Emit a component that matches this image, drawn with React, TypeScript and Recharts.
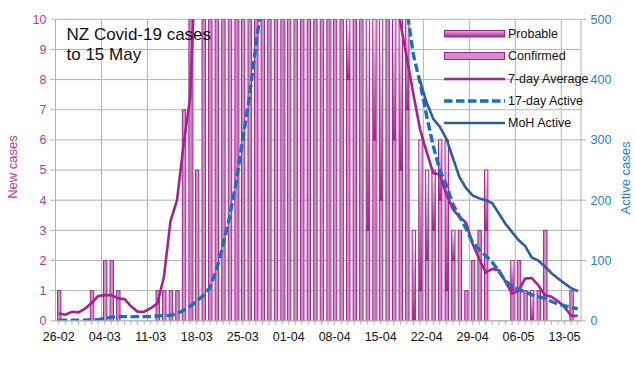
import React from 'react';
import { ComposedChart, Bar, Line, XAxis, YAxis, CartesianGrid, ReferenceLine, Legend } from 'recharts';

const FONT = '"Liberation Sans", Arial, sans-serif';

const DATES = [
  '26-02', '27-02', '28-02', '29-02',
  '01-03', '02-03', '03-03', '04-03', '05-03', '06-03', '07-03', '08-03', '09-03', '10-03',
  '11-03', '12-03', '13-03', '14-03', '15-03', '16-03', '17-03', '18-03', '19-03', '20-03',
  '21-03', '22-03', '23-03', '24-03', '25-03', '26-03', '27-03', '28-03', '29-03', '30-03', '31-03',
  '01-04', '02-04', '03-04', '04-04', '05-04', '06-04', '07-04', '08-04', '09-04', '10-04',
  '11-04', '12-04', '13-04', '14-04', '15-04', '16-04', '17-04', '18-04', '19-04', '20-04',
  '21-04', '22-04', '23-04', '24-04', '25-04', '26-04', '27-04', '28-04', '29-04', '30-04',
  '01-05', '02-05', '03-05', '04-05', '05-05', '06-05', '07-05', '08-05', '09-05', '10-05',
  '11-05', '12-05', '13-05', '14-05', '15-05',
];

const CONFIRMED = [
  1, 0, 0, 0, 0, 1, 0, 2, 2, 1,
  0, 0, 0, 0, 0, 1, 1, 1, 1, 7,
  12, 5, 14, 12, 39, 57, 36, 55, 50, 85,
  85, 75, 80, 70, 85, 65, 89, 70, 60, 55,
  50, 45, 40, 35, 8, 25, 20, 3, 6, 4,
  14, 6, 5, 7, 0, 1, 2, 3, 4, 1,
  2, 3, 1, 2, 3, 3, 0, 0, 0, 1,
  2, 1, 0, 1, 3, 0, 0, 0, 1, 0,
];

const PROBABLE = [
  0, 0, 0, 0, 0, 0, 0, 0, 0, 0,
  0, 0, 0, 0, 0, 0, 0, 0, 0, 0,
  0, 0, 0, 0, 0, 0, 0, 0, 0, 0,
  0, 0, 0, 0, 0, 0, 0, 0, 0, 0,
  0, 0, 0, 0, 12, 0, 0, 12, 9, 10,
  0, 7, 6, 4, 3, 5, 3, 2, 2, 5,
  1, 0, 0, 0, 0, 2, 0, 0, 0, 1,
  0, 0, 1, 0, 0, 0, 0, 0, 0, 0,
];

const AVG_7DAY = [
  0.24, 0.2, 0.3, 0.28, 0.4, 0.6, 0.82, 0.85, 0.85, 0.75,
  0.72, 0.48, 0.3, 0.3, 0.42, 0.57, 1.45, 3.3, 4.0, 5.85,
  7.4, 13, 18, 25, 31, 38, 46, 54, 61, 67,
  72, 75, 78, 79, 79, 78, 75, 72, 66, 60,
  55, 48, 42, 37, 32, 27, 22, 19, 16, 14,
  12.5, 11, 9.9, 8.7, 7.5, 6.35, 5.6, 4.9, 4.85, 4.2,
  3.7, 3.45, 3.25, 2.55, 2.05, 1.6, 1.72, 1.68, 1.3, 0.9,
  1.0, 1.4, 1.42, 1.18, 0.85, 0.8, 0.65, 0.45, 0.17, 0.17,
];

const ACTIVE_17DAY = [
  1, 1, 1, 1, 1, 2, 2, 4, 6, 7,
  7, 7, 7, 7, 7, 8, 9, 9, 12, 17,
  24, 33, 42, 55, 84, 125, 172, 230, 300, 370,
  455, 540, 620, 700, 780, 850, 920, 980, 1030, 1060,
  1080, 1090, 1080, 1050, 1000, 950, 880, 820, 760, 700,
  680, 630, 575, 515, 440, 395, 340, 290, 250, 225,
  193, 173, 153, 130, 118, 108, 97, 82, 66, 57,
  52, 48, 43, 40, 37, 32, 28, 25, 22, 20,
];

const MOH_ACTIVE = [
  null, null, null, null, null, null, null, null, null, null,
  null, null, null, null, null, null, null, null, null, null,
  null, null, null, null, null, null, null, null, null, null,
  null, null, null, null, null, null, null, null, null, null,
  null, null, null, null, null, null, null, null, null, null,
  null, null, null, null, null, 398, 362, 335, 322, 302,
  270, 238, 220, 208, 203, 200, 195, 178, 161, 147,
  134, 124, 105, 100, 90, 79, 70, 62, 54, 49,
];

const X_TICK_LABELS = ['26-02', '04-03', '11-03', '18-03', '25-03', '01-04', '08-04', '15-04', '22-04', '29-04', '06-05', '13-05'];
const LEFT_TICKS = [0, 1, 2, 3, 4, 5, 6, 7, 8, 9, 10];
const RIGHT_TICKS = [0, 100, 200, 300, 400, 500];
const WEEK_BOUNDARIES = [7, 14, 21, 28, 35, 42, 49, 56, 63, 70, 77];

const LEGEND_ITEMS = ['Probable', 'Confirmed', '7-day Average', '17-day Active', 'MoH Active'];

const MAGENTA = '#a3238f';
const PINK = '#d48ccb';
const DASH_BLUE = '#1a6fc0';
const MOH_BLUE = '#2d5f9a';
const GRID = '#b3b3b3';
const LEFT_LABEL = '#b03aa0';
const RIGHT_LABEL = '#2a80d0';

const data = DATES.map((date, i) => ({
  date,
  idx: i + 0.5,
  confirmed: CONFIRMED[i],
  probable: PROBABLE[i],
  avg7: AVG_7DAY[i],
  active17: ACTIVE_17DAY[i],
  moh: MOH_ACTIVE[i],
}));

const XTick = (props: any) => {
  const { x, y, payload } = props;
  if (!X_TICK_LABELS.includes(payload.value)) return <g />;
  return (
    <text x={x} y={y} dy="0.71em" textAnchor="middle" fontSize={12.5} fill="#111" fontFamily={FONT}>
      {payload.value}
    </text>
  );
};

const Swatch = ({ name }: { name: string }) => {
  return (
    <svg width={62} height={22} style={{ display: 'block' }}>
      <defs>
        <linearGradient id="probLegendGrad" x1="0" y1="0" x2="0" y2="1">
          <stop offset="0%" stopColor="#e6b3df" />
          <stop offset="100%" stopColor={MAGENTA} />
        </linearGradient>
      </defs>
      {name === 'Probable' && (
        <rect x={0.5} y={7.5} width={60} height={6.5} fill="url(#probLegendGrad)" stroke={MAGENTA} strokeWidth={1} />
      )}
      {name === 'Confirmed' && (
        <rect x={0.5} y={7.5} width={60} height={7} fill={PINK} stroke={MAGENTA} strokeWidth={1} />
      )}
      {name === '7-day Average' && <line x1={0} y1={11} x2={61} y2={11} stroke={MAGENTA} strokeWidth={2.6} />}
      {name === '17-day Active' && (
        <line x1={0} y1={11} x2={61} y2={11} stroke={DASH_BLUE} strokeWidth={3.4} strokeDasharray="8.5 3.5" />
      )}
      {name === 'MoH Active' && <line x1={0} y1={11} x2={61} y2={11} stroke={MOH_BLUE} strokeWidth={2.6} />}
    </svg>
  );
};

const LegendBox = () => (
  <div style={{ fontFamily: FONT, fontSize: 12.5, color: '#111' }}>
    {LEGEND_ITEMS.map((name) => (
      <div key={name} style={{ display: 'flex', alignItems: 'center', height: 22.3, whiteSpace: 'nowrap' }}>
        <Swatch name={name} />
        <span style={{ marginLeft: 2 }}>{name}</span>
      </div>
    ))}
  </div>
);

export default function App() {
  return (
    <div style={{ position: 'absolute', left: 0, top: 0, width: 635, height: 392, background: '#fff', fontFamily: FONT }}>
      <ComposedChart
        width={635}
        height={392}
        data={data}
        margin={{ top: 19.3, right: 0, bottom: 0, left: 0 }}
        style={{ fontFamily: FONT }}
      >
        <defs>
          <linearGradient id="probGrad" x1="0" y1="0" x2="0" y2="1">
            <stop offset="0%" stopColor="#fbeef8" />
            <stop offset="100%" stopColor={MAGENTA} />
          </linearGradient>
        </defs>
        <CartesianGrid yAxisId="left" vertical={false} stroke={GRID} strokeWidth={1} />
        <XAxis
          dataKey="date"
          interval={0}
          height={71.2}
          tickSize={4}
          tickMargin={7}
          axisLine={{ stroke: GRID }}
          tickLine={{ stroke: GRID }}
          tick={<XTick />}
        />
        <XAxis xAxisId="num" type="number" dataKey="idx" domain={[0, 80]} hide allowDataOverflow />
        <YAxis
          yAxisId="left"
          width={55.5}
          domain={[0, 10]}
          ticks={LEFT_TICKS}
          interval={0}
          allowDataOverflow
          tickSize={5}
          tickMargin={4}
          axisLine={{ stroke: GRID }}
          tickLine={{ stroke: GRID }}
          tick={{ fill: LEFT_LABEL, fontSize: 12.5, fontFamily: FONT }}
        />
        <YAxis
          yAxisId="right"
          orientation="right"
          width={54}
          domain={[0, 500]}
          ticks={RIGHT_TICKS}
          interval={0}
          allowDataOverflow
          tickSize={5}
          tickMargin={4.5}
          axisLine={{ stroke: GRID }}
          tickLine={{ stroke: GRID }}
          tick={{ fill: RIGHT_LABEL, fontSize: 12.5, fontFamily: FONT }}
        />
        {WEEK_BOUNDARIES.map((b) => (
          <ReferenceLine key={b} xAxisId="num" yAxisId="left" x={b} stroke={GRID} strokeWidth={1} />
        ))}
        <Bar
          dataKey="confirmed"
          name="Confirmed"
          stackId="cases"
          yAxisId="left"
          fill={PINK}
          stroke={MAGENTA}
          strokeWidth={1}
          barSize={3.4}
          isAnimationActive={false}
        />
        <Bar
          dataKey="probable"
          name="Probable"
          stackId="cases"
          yAxisId="left"
          fill="url(#probGrad)"
          stroke={MAGENTA}
          strokeWidth={1}
          barSize={3.4}
          isAnimationActive={false}
        />
        <Line
          dataKey="avg7"
          name="7-day Average"
          yAxisId="left"
          type="linear"
          stroke={MAGENTA}
          strokeWidth={2.6}
          dot={false}
          activeDot={false}
          isAnimationActive={false}
        />
        <Line
          dataKey="active17"
          name="17-day Active"
          yAxisId="right"
          type="linear"
          stroke={DASH_BLUE}
          strokeWidth={3.4}
          strokeDasharray="8.5 3.5"
          dot={false}
          activeDot={false}
          isAnimationActive={false}
        />
        <Line
          dataKey="moh"
          name="MoH Active"
          yAxisId="right"
          type="linear"
          stroke={MOH_BLUE}
          strokeWidth={2.6}
          dot={false}
          activeDot={false}
          connectNulls={false}
          isAnimationActive={false}
        />
        <Legend
          layout="vertical"
          align="center"
          verticalAlign="middle"
          wrapperStyle={{ left: 444, top: 23, width: 150 }}
          content={() => <LegendBox />}
        />
      </ComposedChart>
      <div style={{ position: 'absolute', left: 66.5, top: 25.4, fontSize: 17, lineHeight: '20px', color: '#111', whiteSpace: 'nowrap' }}>
        NZ Covid-19 cases
        <br />
        to 15 May
      </div>
      <div
        style={{
          position: 'absolute', left: 12, top: 167, transform: 'translate(-50%, -50%) rotate(-90deg)',
          fontSize: 13, color: LEFT_LABEL, whiteSpace: 'nowrap',
        }}
      >
        New cases
      </div>
      <div
        style={{
          position: 'absolute', left: 625, top: 178, transform: 'translate(-50%, -50%) rotate(-90deg)',
          fontSize: 13, color: RIGHT_LABEL, whiteSpace: 'nowrap',
        }}
      >
        Active cases
      </div>
    </div>
  );
}
